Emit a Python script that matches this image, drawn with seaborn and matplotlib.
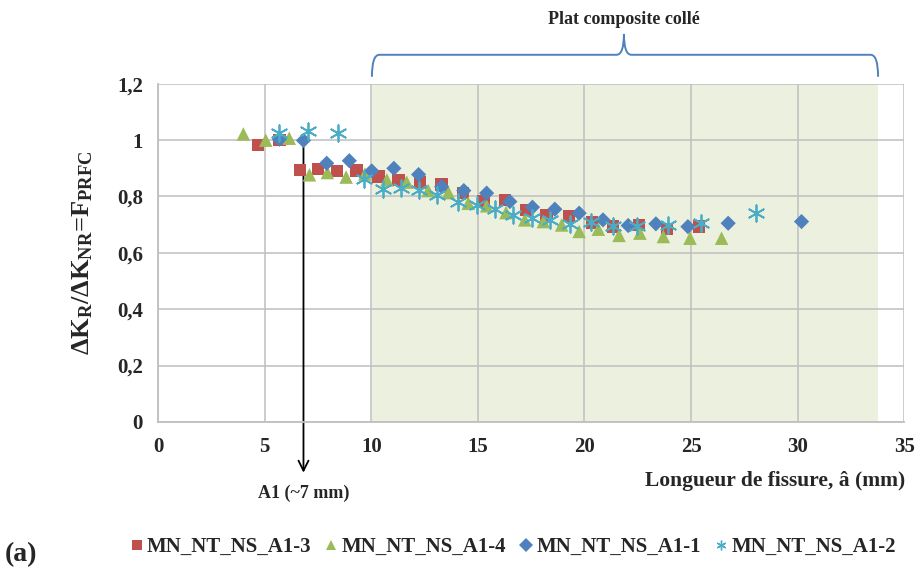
import numpy as np
import pandas as pd
import matplotlib
matplotlib.use('Agg')
import matplotlib.pyplot as plt
import seaborn as sns
from matplotlib.lines import Line2D
from matplotlib.path import Path
from matplotlib.patches import PathPatch
from matplotlib.ticker import FuncFormatter

# data
a13_x = [4.70, 5.69, 6.66, 7.49, 8.38, 9.31, 10.33, 11.27, 12.29, 13.30, 14.31, 15.26, 16.27,
         17.26, 18.22, 19.28, 20.34, 21.35, 22.55, 23.86, 25.38]
a13_y = [0.983, 1.0, 0.895, 0.897, 0.891, 0.892, 0.871, 0.859, 0.850, 0.842, 0.812, 0.782, 0.788,
         0.753, 0.735, 0.731, 0.708, 0.693, 0.698, 0.684, 0.693]

a14_x = [4.0, 5.05, 6.15, 7.10, 7.94, 8.82, 9.70, 10.73, 11.66, 12.67, 13.62, 14.55, 15.41, 16.32,
         17.20, 18.07, 18.93, 19.75, 20.65, 21.62, 22.6, 23.70, 24.95, 26.43]
a14_y = [1.022, 1.0, 1.007, 0.877, 0.885, 0.869, 0.88, 0.859, 0.851, 0.821, 0.814, 0.776, 0.767, 0.743,
         0.717, 0.711, 0.699, 0.676, 0.684, 0.662, 0.670, 0.658, 0.652, 0.652]

a11_x = [5.69, 6.82, 7.91, 8.97, 10.02, 11.06, 12.22, 13.30, 14.34, 15.41, 16.50, 17.56, 18.61,
         19.75, 20.87, 22.05, 23.35, 24.85, 26.74, 30.18]
a11_y = [1.003, 0.999, 0.918, 0.927, 0.891, 0.900, 0.878, 0.835, 0.821, 0.812, 0.782, 0.762, 0.755,
         0.741, 0.717, 0.697, 0.703, 0.693, 0.705, 0.711]

a12_x = [5.69, 7.05, 8.45, 9.66, 10.54, 11.38, 12.26, 13.10, 14.09, 14.97, 15.80, 16.66, 17.52,
         18.38, 19.31, 20.29, 21.35, 22.45, 23.93, 25.45, 28.03]
a12_y = [1.025, 1.033, 1.025, 0.861, 0.826, 0.830, 0.822, 0.806, 0.782, 0.770, 0.755, 0.735, 0.723,
         0.717, 0.703, 0.708, 0.696, 0.695, 0.699, 0.705, 0.741]

series_names = ['MN_NT_NS_A1-3', 'MN_NT_NS_A1-4', 'MN_NT_NS_A1-1', 'MN_NT_NS_A1-2']
colors = ['#C0504D', '#9BBB59', '#4F81BD', '#4BACC6']
markers = ['s', '^', 'D', (6, 2, 0)]
sizes = [80, 95, 60, 140]

zone_start, zone_end = 10.03, 33.77
a1_pos = 6.82

sns.set_style('white')
plt.rcParams['font.family'] = ['Liberation Serif', 'DejaVu Serif']
plt.rcParams['font.weight'] = 'bold'
plt.rcParams['mathtext.fontset'] = 'custom'
plt.rcParams['mathtext.rm'] = 'Liberation Serif:bold'
plt.rcParams['mathtext.it'] = 'Liberation Serif:bold'
plt.rcParams['mathtext.bf'] = 'Liberation Serif:bold'

fig = plt.figure(figsize=(9.19, 5.74), dpi=100)
ax = fig.add_axes([0.172, 0.265, 0.812, 0.589])

data = [(a13_x, a13_y), (a14_x, a14_y), (a11_x, a11_y), (a12_x, a12_y)]
for (xs, ys), name, c, m, s in zip(data, series_names, colors, markers, sizes):
    df = pd.DataFrame({'x': xs, 'y': ys})
    if m == (6, 2, 0):
        sns.scatterplot(data=df, x='x', y='y', ax=ax, marker=m, s=s, color=c,
                        linewidth=1.3, zorder=3, legend=False)
    else:
        sns.scatterplot(data=df, x='x', y='y', ax=ax, marker=m, s=s, color=c,
                        edgecolor='none', zorder=3, legend=False)

ax.axvspan(zone_start, zone_end, color='#EBF1DE', zorder=0.2, lw=0)

ax.set_xlim(0, 35)
ax.set_ylim(0, 1.2)
ax.set_xticks([0, 5, 10, 15, 20, 25, 30, 35])
ax.set_yticks([0, 0.2, 0.4, 0.6, 0.8, 1.0, 1.2])
ax.yaxis.set_major_formatter(FuncFormatter(lambda v, p: ('%g' % round(v, 2)).replace('.', ',')))
ax.set_axisbelow(True)
ax.grid(True, color='#BFBFBF', lw=1.1)
for sp in ['top', 'right']:
    ax.spines[sp].set_visible(False)
for sp in ['left', 'bottom']:
    ax.spines[sp].set_color('#BFBFBF')
    ax.spines[sp].set_linewidth(1.3)
ax.tick_params(axis='both', which='major', direction='out', length=5, color='#BFBFBF',
               width=1.1, labelsize=15, pad=6)
for lab in ax.get_xticklabels() + ax.get_yticklabels():
    lab.set_fontweight('bold')

ax.set_xlabel('')
ax.set_ylabel('ΔK$_R$/ΔK$_{NR}$=F$_{PRFC}$', fontsize=19, fontweight='bold', labelpad=16)
fig.text(0.985, 0.162, 'Longueur de fissure, â (mm)', ha='right', va='center',
         fontsize=15.5, fontweight='bold')

# A1 arrow
ax.annotate('', xy=(a1_pos, -0.19), xytext=(a1_pos, 0.985),
            arrowprops=dict(arrowstyle='->', color='black', lw=1.3, mutation_scale=18),
            annotation_clip=False, zorder=2)
ax.text(a1_pos, -0.255, 'A1 (~7 mm)', ha='center', va='center', fontsize=13,
        fontweight='bold', clip_on=False)

# brace over composite zone
mid = 21.85
yb, yh, yt = 1.225, 1.303, 1.377
dx = 0.35
verts = [(zone_start, yb), (zone_start, yh), (zone_start + dx, yh),
         (mid - dx, yh), (mid, yh), (mid, yt),
         (mid, yh), (mid + dx, yh),
         (zone_end - dx, yh), (zone_end, yh), (zone_end, yb)]
codes = [Path.MOVETO, Path.CURVE3, Path.CURVE3,
         Path.LINETO, Path.CURVE3, Path.CURVE3,
         Path.CURVE3, Path.CURVE3,
         Path.LINETO, Path.CURVE3, Path.CURVE3]
ax.add_patch(PathPatch(Path(verts, codes), fill=False, edgecolor='#4F81BD', lw=1.4,
                       clip_on=False))
ax.text(mid, 1.43, 'Plat composite collé', ha='center', va='center', fontsize=13,
        fontweight='bold', clip_on=False)

handles = [Line2D([], [], ls='none', marker=m, color=c, markersize=7,
                  markeredgewidth=(1.0 if m == (6, 2, 0) else 0))
           for m, c in zip(markers, colors)]
fig.legend(handles, series_names, loc='center', bbox_to_anchor=(0.556, 0.047), ncol=4,
           frameon=False, prop={'size': 15, 'weight': 'bold'}, handletextpad=0.0,
           columnspacing=0.45, handlelength=1.0)
fig.text(0.005, 0.033, '(a)', ha='left', va='center', fontsize=20, fontweight='bold')

fig.savefig('out.png', dpi=100)
